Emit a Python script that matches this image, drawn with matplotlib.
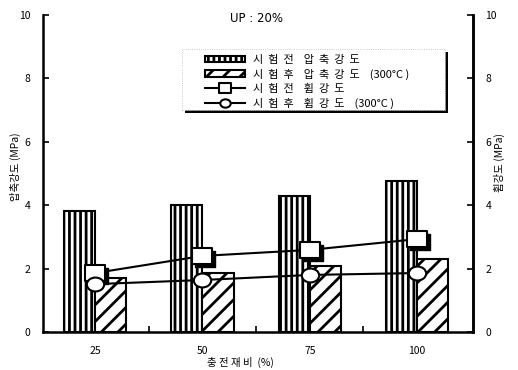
import matplotlib
matplotlib.use("Agg")
import matplotlib.pyplot as plt
import numpy as np
from matplotlib.path import Path
from matplotlib.patches import Rectangle
from matplotlib.transforms import offset_copy

plt.rcParams['font.family'] = ['Noto Sans CJK KR', 'DejaVu Sans']
plt.rcParams['hatch.linewidth'] = 2.0

# ----- Daten -----
ratios = ["25", "50", "75", "100"]
comp_before = [3.82, 4.00, 4.29, 4.76]   # 시험전 압축강도
comp_after = [1.70, 1.86, 2.08, 2.30]    # 시험후 압축강도 (300°C)
flex_before = [1.86, 2.40, 2.59, 2.93]   # 시험전 휨강도
flex_after = [1.51, 1.64, 1.80, 1.86]    # 시험후 휨강도 (300°C)

labels = ["시  험  전    압  축  강  도",
          "시  험  후    압  축  강  도    (300°C )",
          "시  험  전    휨  강  도",
          "시  험  후    휨  강  도    (300°C )"]

x = np.arange(len(ratios))
w = 0.29

fig = plt.figure(figsize=(5.18, 3.70), dpi=100)
ax = fig.add_axes([43 / 518, 38 / 370, 430 / 518, 317 / 370])

b1 = ax.bar(x - w / 2, comp_before, w, color="white", edgecolor="black",
            hatch="|||", linewidth=1.5, zorder=2)
b2 = ax.bar(x + w / 2, comp_after, w, color="white", edgecolor="black",
            hatch="//", linewidth=1.5, zorder=2)

# Marker: flaches Rechteck und Ellipse
rect = Path([(-1, -0.75), (1, -0.75), (1, 0.75), (-1, 0.75), (-1, -0.75)],
            [Path.MOVETO, Path.LINETO, Path.LINETO, Path.LINETO, Path.CLOSEPOLY])
circ = Path.unit_circle()
ell = Path(circ.vertices * np.array([1.0, 0.8]), circ.codes)

# Schatten unter den Rechteck-Markern
shadow = offset_copy(ax.transData, fig=fig, x=2.2, y=-2.2, units="points")
ax.plot(x, flex_before, linestyle="none", marker=rect, markersize=14.5,
        color="black", transform=shadow, zorder=3)

l1, = ax.plot(x, flex_before, color="black", linewidth=1.5, marker=rect,
              markersize=14.5, markerfacecolor="white",
              markeredgecolor="black", markeredgewidth=1.5, zorder=4)
l2, = ax.plot(x, flex_after, color="black", linewidth=1.5, marker=ell,
              markersize=12.5, markerfacecolor="white",
              markeredgecolor="black", markeredgewidth=1.5, zorder=4)

ax.set_xlim(-0.485, 3.52)
ax.set_ylim(0, 10)
ax.set_xticks(x)
ax.set_xticklabels(ratios, fontsize=7.5)
ax.set_xticks([0.5, 1.5, 2.5], minor=True)
ax.tick_params(axis="x", which="major", length=0, pad=10)
ax.tick_params(axis="x", which="minor", direction="in", length=4, width=1.2)
ax.set_yticks(range(0, 11, 2))
ax.tick_params(axis="y", direction="in", length=4, width=1.2,
               labelsize=7.5, pad=9)

for side in ["left", "right", "bottom"]:
    ax.spines[side].set_linewidth(1.8)
ax.spines["top"].set_visible(False)

ax2 = ax.twinx()
ax2.set_ylim(0, 10)
ax2.set_yticks(range(0, 11, 2))
ax2.tick_params(axis="y", direction="in", length=4, width=1.2,
                labelsize=7.5, pad=9)
ax2.spines["right"].set_linewidth(1.8)
for side in ["top", "left", "bottom"]:
    ax2.spines[side].set_visible(False)

ax.set_xlabel("충 전 재 비  (%)", fontsize=7.5, x=0.458, labelpad=1)
fig.text(15 / 518, 1 - 167 / 370, "압축강도 (MPa)", rotation=90,
         fontsize=7.5, ha="center", va="center")
fig.text(499 / 518, 1 - 163 / 370, "휨강도 (MPa)", rotation=90,
         fontsize=7.5, ha="center", va="center")
ax.text(0.497, 0.99, "UP : 20%", transform=ax.transAxes, fontsize=8.5,
        ha="center", va="center", family="DejaVu Sans")

# Legendenkasten mit schwarzem Schlagschatten (rechts/unten)
bx, by, bw, bh = 0.3233, 0.7003, 0.6116, 0.1924
ax.add_patch(Rectangle((bx + 0.007, by - 0.0095), bw, bh, transform=ax.transAxes,
                       facecolor="black", edgecolor="none", zorder=5))
ax.add_patch(Rectangle((bx, by), bw, bh, transform=ax.transAxes,
                       facecolor="white", edgecolor="#bbbbbb",
                       linewidth=0.6, linestyle=":", zorder=6))

leg = ax.legend([b1, b2, l1, l2], labels, loc="upper left",
                bbox_to_anchor=(0.377, 0.875), borderaxespad=0,
                borderpad=0, fontsize=8, handlelength=3.6, handleheight=0.5,
                labelspacing=0.34, handletextpad=0.7, markerscale=0.6,
                frameon=False)
leg.set_zorder(7)

fig.savefig("out.png", dpi=100)
